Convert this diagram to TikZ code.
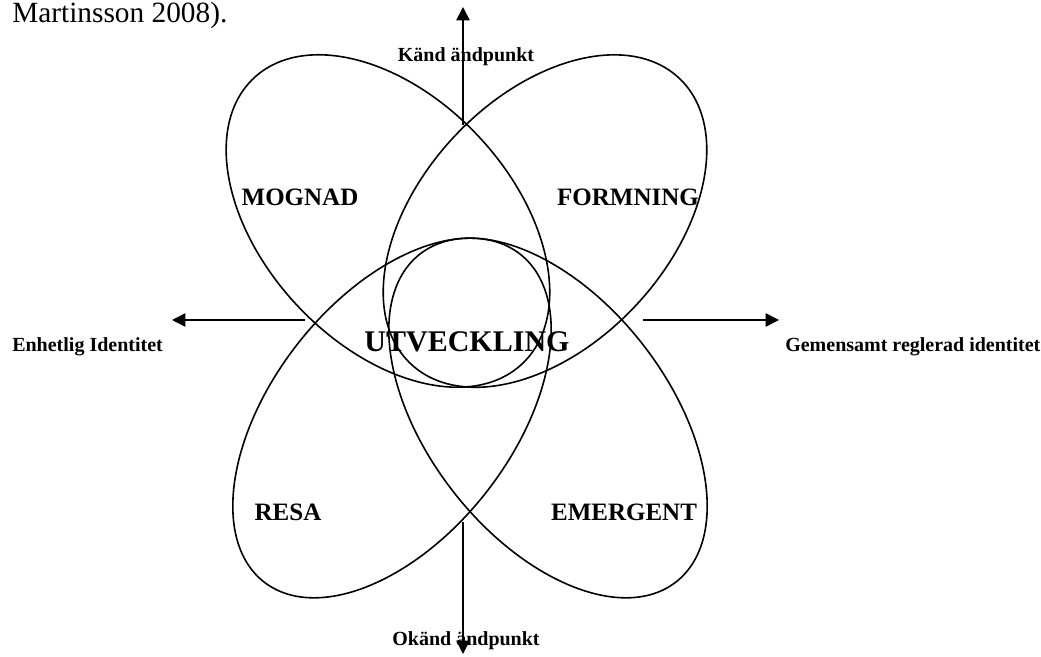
\documentclass[tikz,border=0pt]{standalone}
\usepackage{fontspec}
\setmainfont{Liberation Serif}
\usetikzlibrary{arrows.meta, positioning}

\begin{document}
\begin{tikzpicture}[x=0.75pt, y=0.75pt,
    petal/.style={draw, line width=1.2pt},
    axisarrow/.style={line width=1.2pt, -{Triangle[length=10pt, width=10pt]}},
    axislabel/.style={font=\bfseries\fontsize{15}{18}\selectfont, inner sep=0pt},
    petallabel/.style={font=\bfseries\fontsize{18.75}{22}\selectfont, inner sep=0pt}]
    \useasboundingbox (0,0) rectangle (1041,656);

    % Text above the figure
    \node[anchor=base west, inner sep=0pt, font=\fontsize{22}{26}\selectfont] (citation) at (12,633) {Martinsson 2008).};

    % Petal centres
    \coordinate (mognadC) at (388,435);
    \coordinate (formningC) at (545,435);
    \coordinate (resaC) at (392,238);
    \coordinate (emergentC) at (548,238);

    % Petals
    \draw[petal, rotate around={-46.8:(mognadC)}] (mognadC) ellipse [x radius=196, y radius=124];
    \draw[petal, rotate around={46.8:(formningC)}] (formningC) ellipse [x radius=196, y radius=124];
    \draw[petal, rotate around={52:(resaC)}] (resaC) ellipse [x radius=208, y radius=120];
    \draw[petal, rotate around={-52:(emergentC)}] (emergentC) ellipse [x radius=208, y radius=120];

    % Axes
    \coordinate (upStart) at (463,531);
    \coordinate (upEnd) at (463,649);
    \coordinate (downStart) at (463,134);
    \coordinate (downEnd) at (463,2);
    \coordinate (leftStart) at (305,336);
    \coordinate (leftEnd) at (172,336);
    \coordinate (rightStart) at (643,336);
    \coordinate (rightEnd) at (779,336);
    \draw[axisarrow] (upStart) -- (upEnd);
    \draw[axisarrow] (downStart) -- (downEnd);
    \draw[axisarrow] (leftStart) -- (leftEnd);
    \draw[axisarrow] (rightStart) -- (rightEnd);

    % Axis labels
    \node[axislabel] (known) at (466,599) {Känd ändpunkt};
    \node[axislabel] (unknown) at (466,15) {Okänd ändpunkt};
    \node[axislabel, anchor=west] (unified) at (12,309) {Enhetlig Identitet};
    \node[axislabel, anchor=west] (shared) at (785,309) {Gemensamt reglerad identitet};

    % Petal labels
    \node[petallabel] (mognad) at (300,459) {MOGNAD};
    \node[petallabel] (formning) at (628,459) {FORMNING};
    \node[petallabel] (resa) at (288,144) {RESA};
    \node[petallabel] (emergent) at (624,144) {EMERGENT};
    \node[font=\bfseries\fontsize{22.5}{26}\selectfont, inner sep=0pt] (centre) at (467,314) {UTVECKLING};
\end{tikzpicture}
\end{document}
